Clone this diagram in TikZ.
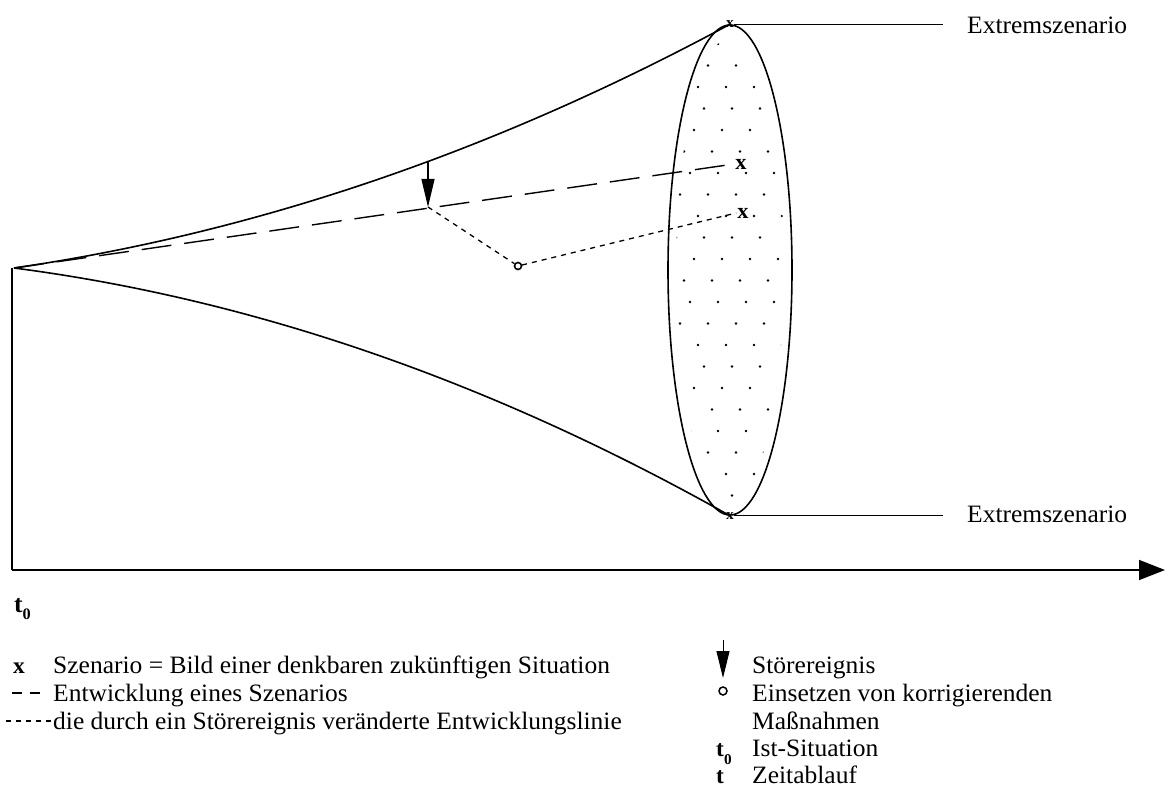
\documentclass[tikz,border=0pt]{standalone}
\usepackage{fontspec}
\setmainfont{Liberation Serif}[FakeStretch=1.02]
\usetikzlibrary{arrows.meta,shapes.geometric}
\begin{document}
\begin{tikzpicture}[x=1pt,y=-1pt,
  curve/.style={line width=1.6pt},
  scen/.style={line width=1.4pt, dash pattern=on 30pt off 13pt},
  stoer/.style={line width=1.3pt, dash pattern=on 5pt off 5pt},
  leg/.style={anchor=base west, inner sep=0pt, font=\fontsize{25}{25}\selectfont},
  legmark/.style={anchor=base, inner sep=0pt, font=\fontsize{23}{23}\selectfont\bfseries},
  bigx/.style={font=\fontsize{22}{22}\selectfont\bfseries, inner sep=1pt},
  smallx/.style={font=\fontsize{15}{15}\selectfont\bfseries, inner sep=0pt},
  extline/.style={line width=1.1pt}
]
\useasboundingbox (0,0) rectangle (1165,791);

% apex and axes
\coordinate (o) at (14,268);
\coordinate (corner) at (12,570);
\coordinate (axend) at (1165,570);
\draw[curve] (12,268) -- (corner);
\draw[curve, -{Triangle[length=26pt,width=20pt]}] (corner) -- (axend);

% ellipse
\node[ellipse, draw, line width=1.6pt, minimum width=124pt, minimum height=490pt, inner sep=0pt] (ell) at (730,270) {};
\begin{scope}
  \clip (730,270) ellipse [x radius=54pt, y radius=232pt];
  \foreach \j in {0,...,21} {
    \foreach \i in {0,...,5} {
      \fill ({662+28*\i+14*mod(\j,2)+4*mod(\j,3)}, {44+21.5*\j}) circle (1.3pt);
    }
  }
\end{scope}

% cone
\draw[curve] (o) .. controls (252.7,233.3) and (491.3,153) .. (ell.north);
\draw[curve] (o) .. controls (252.7,299) and (491.3,381.3) .. (ell.south);

% extreme scenarios
\node[smallx] (xtop) at (ell.north) {x};
\node[smallx] (xbot) at (ell.south) {x};
\node[leg] (ext1) at (967,34) {Extremszenario};
\node[leg] (ext2) at (967,522) {Extremszenario};
\draw[extline] (xtop.east) -- ([xshift=-24pt]ext1.base west |- xtop.east);
\draw[extline] (xbot.east) -- ([xshift=-24pt]ext2.base west |- xbot.east);

% scenario development
\node[bigx] (x1) at (741,164) {x};
\node[bigx] (x2) at (743,213) {x};
\coordinate (d) at (428,207);
\coordinate (a1) at (428,162);
\draw[scen] (o) -- (x1.west);
\draw[line width=1.2pt, -{Triangle[length=28pt,width=13pt]}] (a1) -- (d);
\node[circle, draw, line width=1.6pt, minimum size=7pt, inner sep=0pt] (c) at (518,266) {};
\draw[stoer] (d) -- (c);
\draw[stoer] (c) -- (x2.west);

% t0 under axis
\node[anchor=base west, inner sep=0pt, font=\fontsize{25}{25}\selectfont\bfseries] (t0) at (14,612) {t\raisebox{-7pt}{\fontsize{16}{16}\selectfont 0}};

% legend left
\node[legmark] (lx) at (19,673) {x};
\coordinate (ld1) at (12,693);
\coordinate (ld2) at (44,693);
\draw[line width=1.3pt, dash pattern=on 10pt off 8pt] (ld1) -- (ld2);
\coordinate (lp1) at (6,721);
\coordinate (lp2) at (52,721);
\draw[line width=1.1pt, dash pattern=on 5pt off 5pt] (lp1) -- (lp2);
\node[leg] (l1) at (53,673) {Szenario = Bild einer denkbaren zukünftigen Situation};
\node[leg] (l2) at (53,701) {Entwicklung eines Szenarios};
\node[leg] (l3) at (53,729) {die durch ein Störereignis veränderte Entwicklungslinie};

% legend right
\coordinate (lt1) at (723,640);
\coordinate (lt2) at (723,678);
\draw[line width=1pt, -{Triangle[length=27pt,width=13pt]}] (lt1) -- (lt2);
\node[leg] (r1) at (752,673) {Störereignis};
\node[circle, draw, line width=1.5pt, minimum size=8pt, inner sep=0pt] (lc) at (723,691) {};
\node[leg] (r2) at (752,701) {Einsetzen von korrigierenden};
\node[leg] (r3) at (752,729) {Maßnahmen};
\node[anchor=base west, inner sep=0pt, font=\fontsize{23}{23}\selectfont\bfseries] (lt0) at (716,756) {t\raisebox{-8pt}{\fontsize{15}{15}\selectfont 0}};
\node[leg] (r4) at (752,756) {Ist-Situation};
\node[anchor=base west, inner sep=0pt, font=\fontsize{23}{23}\selectfont\bfseries] (lt) at (716,783) {t};
\node[leg] (r5) at (752,783) {Zeitablauf};
\end{tikzpicture}
\end{document}
